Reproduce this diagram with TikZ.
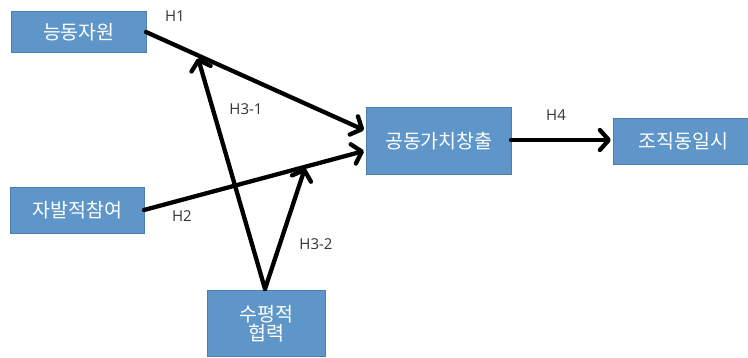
\documentclass[tikz,border=0pt]{standalone}
\usepackage{fontspec}
\setmainfont{Noto Sans CJK KR}
\newfontfamily\lbl{Open Sans}
\usetikzlibrary{arrows.meta}
\definecolor{boxfill}{HTML}{5E96CA}
\definecolor{boxline}{HTML}{4A7FB0}
\definecolor{lblcol}{HTML}{333333}
\tikzset{
  box/.style={draw=boxline, fill=boxfill, line width=0.8pt, text=white, font=\fontsize{19.5}{23}\selectfont, inner sep=0pt, align=center},
  conn/.style={line width=4.3pt, -{Straight Barb[length=9pt, width=20pt, line width=4.3pt, round]}, line cap=round},
  hlab/.style={text=lblcol, font=\lbl\fontsize{15}{17}\selectfont, inner sep=0pt}
}
\begin{document}
\begin{tikzpicture}[x=1pt,y=-1pt]
\useasboundingbox (0,0) rectangle (748,357);
\node[box, minimum width=135pt, minimum height=41pt, anchor=north west] (a) at (11,11) {능동자원};
\node[box, minimum width=134pt, minimum height=46pt, anchor=north west] (b) at (10,187) {자발적참여};
\node[box, minimum width=118pt, minimum height=66pt, anchor=north west] (c) at (207,290) {수평적\\[-4pt]협력};
\node[box, minimum width=145pt, minimum height=67pt, anchor=north west] (d) at (366,107) {공동가치창출};
\node[box, minimum width=140pt, minimum height=46pt, anchor=north west] (e) at (613,118) {조직동일시};
\coordinate (a1) at (146,32);
\coordinate (b1) at (144,210);
\coordinate (c1) at (265,289);
\coordinate (d1) at (364,130);
\coordinate (d2) at (364,151);
\coordinate (m1) at (198,58);
\coordinate (m2) at (305,168);
\coordinate (d3) at (511,140);
\coordinate (e1) at (611,140);
\draw[conn] (a1) -- (d1);
\draw[conn] (b1) -- (d2);
\draw[conn] (c1) -- (m1);
\draw[conn] (c1) -- (m2);
\draw[conn] (d3) -- (e1);
\node[hlab] (h1) at (175,16) {H1};
\node[hlab] (h31) at (246,109) {H3-1};
\node[hlab] (h2) at (182,216) {H2};
\node[hlab] (h32) at (316,244) {H3-2};
\node[hlab] (h4) at (556,115) {H4};
\end{tikzpicture}
\end{document}
